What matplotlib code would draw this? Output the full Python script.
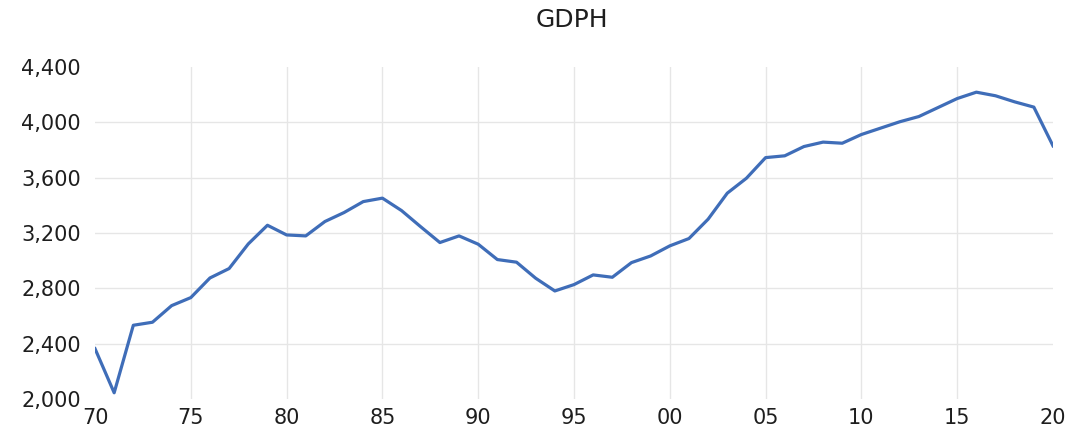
import matplotlib
matplotlib.use("Agg")
import matplotlib.pyplot as plt
from matplotlib.ticker import FuncFormatter

years = list(range(1970, 2021))
gdph = [2364, 2045, 2533, 2555, 2675, 2733, 2875, 2943, 3121, 3256,
        3186, 3179, 3283, 3348, 3427, 3452, 3362, 3245, 3131, 3179,
        3119, 3008, 2989, 2873, 2781, 2827, 2897, 2880, 2986, 3034,
        3107, 3160, 3300, 3488, 3596, 3745, 3758, 3825, 3857, 3849,
        3912, 3958, 4004, 4042, 4107, 4172, 4218, 4192, 4148, 4110,
        3830]
xticks = list(range(1970, 2021, 5))
xticklabels = ["70", "75", "80", "85", "90", "95", "00", "05", "10", "15", "20"]
yticks = [2000, 2400, 2800, 3200, 3600, 4000, 4400]

plt.rcParams['font.family'] = ['DejaVu Sans']

fig = plt.figure(figsize=(10.68, 4.30), dpi=100)
ax = fig.add_axes([95/1068, 31/430, 958/1068, 332/430])

ax.plot(years, gdph, color="#3F6DB8", lw=2.3, solid_joinstyle="round", zorder=3)

ax.set_xlim(1970, 2020)
ax.set_ylim(2000, 4400)
ax.set_xticks(xticks)
ax.set_xticklabels(xticklabels)
ax.set_yticks(yticks)
ax.yaxis.set_major_formatter(FuncFormatter(lambda v, p: f"{int(v):,}"))

ax.grid(True, color="#E6E6E6", lw=1.0, zorder=0)
xgl = ax.get_xgridlines()
xgl[0].set_visible(False)
xgl[-1].set_visible(False)
ygl = ax.get_ygridlines()
ygl[0].set_visible(False)
ygl[-1].set_visible(False)

for s in ax.spines.values():
    s.set_visible(False)
ax.tick_params(axis="both", length=0, labelsize=15, colors="#1E1E1E")
ax.tick_params(axis="x", pad=6.5)
ax.tick_params(axis="y", pad=10)

fig.text(572/1068, 1 - 20/430, "GDPH", ha="center", va="center", fontsize=18, color="#1E1E1E")

fig.savefig("out.png", dpi=100)
